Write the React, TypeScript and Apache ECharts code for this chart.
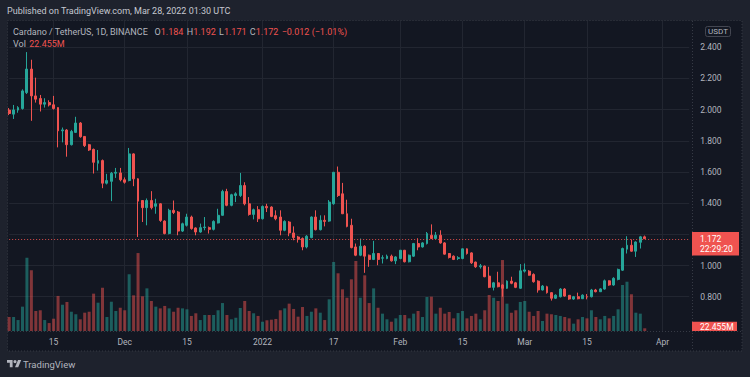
import React, { useEffect, useRef } from "react";
import * as echarts from "echarts";

// ---- data ----
const FIRST_DAY = Date.UTC(2021, 10, 5); // first visible daily candle: 2021-11-05
const SLOT_COUNT = 154; // daily slots on the time axis (candles + empty future space)

const opens = [
  1.997, 1.971, 1.997, 2.007, 2.109, 2.26, 2.088, 2.071, 2.035, 2.045,
  2.031, 2.013, 1.864, 1.869, 1.775, 1.854, 1.914, 1.828, 1.775, 1.745,
  1.656, 1.673, 1.528, 1.54, 1.592, 1.594, 1.55, 1.545, 1.716, 1.556,
  1.417, 1.371, 1.417, 1.38, 1.396, 1.285, 1.205, 1.354, 1.343, 1.221,
  1.258, 1.311, 1.241, 1.215, 1.243, 1.243, 1.232, 1.273, 1.322, 1.475,
  1.386, 1.449, 1.449, 1.513, 1.396, 1.328, 1.358, 1.3, 1.379, 1.375,
  1.32, 1.311, 1.226, 1.279, 1.209, 1.183, 1.173, 1.119, 1.179, 1.311,
  1.23, 1.29, 1.285, 1.396, 1.598, 1.46, 1.332, 1.258, 1.119, 1.066,
  1.124, 1.066, 1.039, 1.077, 1.047, 1.045, 1.06, 1.03, 1.045, 1.098,
  1.024, 1.06, 1.141, 1.119, 1.141, 1.194, 1.173, 1.194, 1.145, 1.077,
  1.06, 1.045, 1.045, 1.107, 1.081, 1.022, 0.992, 0.996, 0.932, 0.86,
  0.889, 0.875, 0.854, 0.9, 0.889, 0.854, 0.964, 0.964, 0.943, 0.9,
  0.843, 0.864, 0.826, 0.79, 0.8, 0.849, 0.809, 0.785, 0.8, 0.787,
  0.8, 0.8, 0.843, 0.832, 0.849, 0.902, 0.875, 0.911, 0.97, 1.105,
  1.13, 1.092, 1.149, 1.184,
];
const highs = [
  2.01, 2.03, 2.022, 2.13, 2.369, 2.32, 2.205, 2.094, 2.073, 2.06,
  2.088, 2.015, 1.885, 1.875, 1.87, 1.954, 1.92, 1.83, 1.78, 1.75,
  1.741, 1.68, 1.588, 1.6, 1.626, 1.626, 1.565, 1.754, 1.72, 1.56,
  1.42, 1.43, 1.477, 1.428, 1.4, 1.29, 1.364, 1.417, 1.35, 1.275,
  1.332, 1.32, 1.245, 1.269, 1.311, 1.25, 1.29, 1.364, 1.486, 1.492,
  1.46, 1.47, 1.594, 1.534, 1.439, 1.365, 1.381, 1.385, 1.396, 1.38,
  1.354, 1.354, 1.29, 1.285, 1.251, 1.19, 1.18, 1.195, 1.315, 1.354,
  1.322, 1.322, 1.42, 1.6, 1.635, 1.53, 1.422, 1.3, 1.141, 1.173,
  1.13, 1.07, 1.158, 1.08, 1.066, 1.07, 1.07, 1.06, 1.1, 1.1,
  1.07, 1.145, 1.175, 1.15, 1.215, 1.264, 1.215, 1.226, 1.15, 1.08,
  1.065, 1.06, 1.11, 1.11, 1.085, 1.025, 1.01, 1.0, 0.992, 0.895,
  0.96, 0.88, 0.905, 0.928, 0.895, 1.009, 1.013, 0.97, 0.95, 0.905,
  0.875, 0.87, 0.83, 0.815, 0.855, 0.855, 0.81, 0.805, 0.826, 0.815,
  0.817, 0.85, 0.85, 0.855, 0.91, 0.905, 0.925, 0.98, 1.115, 1.188,
  1.167, 1.155, 1.19, 1.192,
];
const lows = [
  1.965, 1.94, 1.98, 2.0, 2.1, 1.928, 2.045, 1.988, 2.013, 2.02,
  2.0, 1.758, 1.79, 1.698, 1.77, 1.85, 1.82, 1.76, 1.735, 1.59,
  1.609, 1.496, 1.52, 1.413, 1.562, 1.54, 1.525, 1.54, 1.509, 1.183,
  1.279, 1.258, 1.36, 1.332, 1.28, 1.2, 1.2, 1.33, 1.194, 1.215,
  1.25, 1.23, 1.194, 1.21, 1.226, 1.205, 1.225, 1.27, 1.32, 1.38,
  1.38, 1.407, 1.44, 1.386, 1.32, 1.296, 1.279, 1.295, 1.343, 1.31,
  1.29, 1.194, 1.22, 1.188, 1.162, 1.147, 1.098, 1.11, 1.175, 1.225,
  1.225, 1.251, 1.28, 1.39, 1.44, 1.33, 1.245, 1.11, 1.06, 1.06,
  0.953, 0.992, 1.035, 1.002, 1.013, 1.04, 1.025, 1.009, 1.04, 1.02,
  1.02, 1.055, 1.098, 1.115, 1.135, 1.17, 1.17, 1.14, 1.07, 1.045,
  1.035, 1.035, 1.04, 1.07, 1.01, 0.985, 0.98, 0.925, 0.855, 0.84,
  0.86, 0.8, 0.85, 0.88, 0.855, 0.85, 0.955, 0.935, 0.89, 0.826,
  0.84, 0.82, 0.775, 0.785, 0.795, 0.8, 0.78, 0.78, 0.783, 0.785,
  0.783, 0.795, 0.828, 0.83, 0.845, 0.87, 0.87, 0.905, 0.965, 1.077,
  1.088, 1.055, 1.109, 1.171,
];
const closes = [
  1.975, 1.998, 2.013, 2.12, 2.26, 2.088, 2.067, 2.035, 2.045, 2.03,
  2.007, 1.864, 1.87, 1.775, 1.86, 1.914, 1.826, 1.769, 1.741, 1.662,
  1.673, 1.528, 1.545, 1.592, 1.598, 1.55, 1.534, 1.716, 1.556, 1.413,
  1.371, 1.417, 1.371, 1.396, 1.289, 1.205, 1.354, 1.34, 1.221, 1.268,
  1.311, 1.237, 1.215, 1.243, 1.247, 1.232, 1.283, 1.322, 1.475, 1.386,
  1.454, 1.46, 1.513, 1.396, 1.328, 1.358, 1.3, 1.379, 1.37, 1.315,
  1.3, 1.226, 1.283, 1.209, 1.179, 1.168, 1.119, 1.188, 1.311, 1.23,
  1.29, 1.283, 1.407, 1.598, 1.449, 1.332, 1.251, 1.115, 1.066, 1.124,
  1.06, 1.039, 1.077, 1.039, 1.05, 1.06, 1.03, 1.055, 1.098, 1.024,
  1.066, 1.141, 1.119, 1.145, 1.205, 1.173, 1.194, 1.145, 1.073, 1.052,
  1.039, 1.05, 1.107, 1.077, 1.017, 0.992, 0.998, 0.928, 0.86, 0.889,
  0.864, 0.854, 0.9, 0.886, 0.86, 0.966, 0.972, 0.938, 0.896, 0.843,
  0.868, 0.826, 0.79, 0.81, 0.849, 0.804, 0.785, 0.8, 0.787, 0.81,
  0.798, 0.843, 0.832, 0.85, 0.902, 0.875, 0.918, 0.975, 1.109, 1.13,
  1.092, 1.151, 1.184, 1.172,
];
// volume in millions of ADA
const volumes = [
  116, 116, 91, 202, 608, 504, 166, 172, 91, 66,
  102, 291, 218, 241, 160, 139, 97, 152, 160, 310,
  235, 359, 116, 243, 166, 193, 172, 471, 296, 647,
  288, 354, 249, 202, 188, 208, 188, 160, 193, 188,
  180, 125, 147, 91, 133, 133, 133, 172, 232, 133,
  97, 110, 191, 249, 166, 147, 125, 77, 89, 94,
  100, 172, 188, 227, 183, 119, 199, 125, 160, 188,
  152, 91, 263, 573, 479, 346, 276, 429, 581, 276,
  462, 232, 354, 193, 144, 97, 77, 105, 133, 133,
  105, 144, 166, 116, 282, 285, 144, 193, 144, 158,
  105, 149, 166, 105, 125, 144, 97, 172, 299, 276,
  249, 589, 227, 152, 172, 241, 249, 160, 125, 166,
  83, 144, 139, 133, 125, 116, 105, 61, 97, 116,
  105, 172, 116, 97, 125, 105, 125, 180, 382, 409,
  305, 152, 144, 22.455,
];
const timeLabels: Array<[string, string]> = [
  ["2021-11-15", "15"],
  ["2021-12-01", "Dec"],
  ["2021-12-15", "15"],
  ["2022-01-01", "2022"],
  ["2022-01-17", "17"],
  ["2022-02-01", "Feb"],
  ["2022-02-15", "15"],
  ["2022-03-01", "Mar"],
  ["2022-03-15", "15"],
  ["2022-04-01", "Apr"],
];
// grid lines of the price scale; the 1.200 label is hidden behind the last-price tag
const priceTicks = [0.8, 1.0, 1.2, 1.4, 1.6, 1.8, 2.0, 2.2, 2.4];
const priceLabels = [0.8, 1.0, 1.4, 1.6, 1.8, 2.0, 2.2, 2.4];

const headerText = "Published on TradingView.com, Mar 28, 2022 01:30 UTC";
const symbolText = "Cardano / TetherUS, 1D, BINANCE";
const countdownText = "22:29:20";
const currencyText = "USDT";
const brandText = "TradingView";

// ---- styling ----
const UP = "#26a69a";
const DOWN = "#ef5350";
const UP_VOL = "rgba(38,166,154,0.5)";
const DOWN_VOL = "rgba(239,83,80,0.5)";
const PANE_BG = "#131722";
const OUTER_BG = "#1e222d";
const GRID = "#222631";
const TEXT = "#b2b5be";
const FONT = "Roboto, 'Noto Sans', sans-serif";
const TV_LOGO =
  "M14 22H7V11H0V4h14v18zM28 22h-8l7.5-18h8L28 22zM24 8a4 4 0 1 1-8 0a4 4 0 1 1 8 0z";

let logoRegistered = false;

export default function App() {
  const ref = useRef<HTMLDivElement>(null);

  useEffect(() => {
    document.body.style.margin = "0";
    if (!logoRegistered) {
      echarts.graphic.registerShape("tvlogo", echarts.graphic.extendPath(TV_LOGO, {}) as any);
      logoRegistered = true;
    }
    const chart = echarts.init(ref.current!, null, { renderer: "svg", width: 750, height: 377 });

    const dates: string[] = [];
    for (let i = 0; i < SLOT_COUNT; i++) {
      dates.push(new Date(FIRST_DAY + i * 86400000).toISOString().slice(0, 10));
    }
    const labelMap = new Map(timeLabels);
    const candleData = opens.map((o, i) => [o, closes[i], lows[i], highs[i]]);
    const volData = volumes.map((v, i) => ({
      value: v,
      itemStyle: { color: closes[i] >= opens[i] ? UP_VOL : DOWN_VOL },
    }));
    const last = opens.length - 1;

    chart.setOption({
      animation: false,
      backgroundColor: PANE_BG,
      textStyle: { fontFamily: FONT },
      grid: { left: 9.15, right: 60.8, top: 21, height: 310 },
      xAxis: {
        type: "category",
        data: dates,
        boundaryGap: false,
        axisLine: { show: false },
        axisTick: { show: false },
        axisLabel: {
          interval: (_i: number, v: string) => labelMap.has(v),
          formatter: (v: string) => labelMap.get(v) ?? "",
          color: TEXT,
          fontSize: 8.5,
          margin: 6,
          fontFamily: FONT,
        },
        splitLine: {
          show: true,
          interval: (_i: number, v: string) => labelMap.has(v),
          lineStyle: { color: GRID, width: 1 },
        },
      },
      yAxis: [
        {
          type: "value",
          position: "right",
          min: 0.58,
          max: 2.5684,
          axisLine: { show: false },
          axisTick: { show: false, customValues: priceTicks },
          axisLabel: {
            customValues: priceLabels,
            formatter: (v: number) => v.toFixed(3),
            color: TEXT,
            fontSize: 8.5,
            margin: 11,
            fontFamily: FONT,
          },
          splitLine: { show: true, lineStyle: { color: GRID, width: 1 } },
        },
        { type: "value", min: 0, max: 2573, show: false, splitLine: { show: false } },
      ],
      series: [
        {
          type: "bar",
          yAxisIndex: 1,
          data: volData,
          barWidth: 3,
          z: 1,
          silent: true,
        },
        {
          type: "candlestick",
          data: candleData,
          barWidth: 2.4,
          clip: false,
          z: 3,
          silent: true,
          itemStyle: {
            color: UP,
            color0: DOWN,
            borderColor: UP,
            borderColor0: DOWN,
            borderWidth: 1,
          },
          markLine: {
            silent: true,
            symbol: ["none", "none"],
            label: { show: false },
            lineStyle: { color: DOWN, type: [1, 2], width: 1, opacity: 0.9 },
            data: [{ yAxis: closes[last] }],
          },
        },
      ],
    });

    const yP = chart.convertToPixel({ yAxisIndex: 0 } as any, closes[last]) as unknown as number;
    const yV = chart.convertToPixel({ yAxisIndex: 1 } as any, volumes[last]) as unknown as number;

    const prevClose = closes[last - 1];
    const chg = closes[last] - prevClose;
    const pct = (chg / prevClose) * 100;
    const minus = "\u2212";
    const chgText = `${chg < 0 ? minus : "+"}${Math.abs(chg).toFixed(3)} (${chg < 0 ? minus : "+"}${Math.abs(pct).toFixed(2)}%)`;
    const vc = closes[last] >= opens[last] ? UP : DOWN;
    const volText = `${volumes[last].toFixed(3)}M`;

    const volTop = yV - 6.5;
    const volH = Math.min(13, 331 - volTop);

    chart.setOption({
      graphic: [
        // outer frame bands
        { type: "rect", shape: { x: 0, y: 0, width: 750, height: 20.5 }, style: { fill: OUTER_BG }, silent: true },
        { type: "rect", shape: { x: 0, y: 351, width: 750, height: 26 }, style: { fill: OUTER_BG }, silent: true },
        { type: "rect", shape: { x: 0, y: 0, width: 7.5, height: 377 }, style: { fill: OUTER_BG }, silent: true },
        { type: "rect", shape: { x: 742, y: 0, width: 8, height: 377 }, style: { fill: OUTER_BG }, silent: true },
        // dotted chart frame and separators
        {
          type: "rect",
          shape: { x: 7.5, y: 20.5, width: 734.5, height: 330.5 },
          style: { fill: "none", stroke: "#363a45", lineWidth: 1, lineDash: [1, 2] },
          silent: true,
        },
        {
          type: "line",
          shape: { x1: 692.5, y1: 21, x2: 692.5, y2: 351 },
          style: { stroke: "#363a45", lineWidth: 1, lineDash: [1, 2] },
          silent: true,
        },
        {
          type: "line",
          shape: { x1: 8, y1: 331.5, x2: 742, y2: 331.5 },
          style: { stroke: "#363a45", lineWidth: 1, lineDash: [1, 2] },
          silent: true,
        },
        // header
        {
          type: "text",
          x: 7,
          y: 11,
          style: { text: headerText, fill: "#c5c8d0", fontSize: 9, fontFamily: FONT, verticalAlign: "middle" },
          silent: true,
        },
        // legend
        {
          type: "text",
          x: 13,
          y: 32,
          style: {
            text:
              `{g|${symbolText}}  {g|O}{r|${opens[last].toFixed(3)}} {g|H}{r|${highs[last].toFixed(3)}} ` +
              `{g|L}{r|${lows[last].toFixed(3)}} {g|C}{r|${closes[last].toFixed(3)}} {r|${chgText}}`,
            verticalAlign: "middle",
            rich: {
              g: { fill: TEXT, fontSize: 9, fontFamily: FONT },
              r: { fill: vc, fontSize: 9, fontFamily: FONT },
            },
          },
          silent: true,
        },
        {
          type: "text",
          x: 13,
          y: 44,
          style: {
            text: `{g|Vol} {r|${volText}}`,
            verticalAlign: "middle",
            rich: {
              g: { fill: TEXT, fontSize: 9, fontFamily: FONT },
              r: { fill: vc, fontSize: 9, fontFamily: FONT },
            },
          },
          silent: true,
        },
        // currency box
        {
          type: "rect",
          shape: { x: 705.5, y: 26.5, width: 25, height: 10, r: 2 },
          style: { fill: "none", stroke: "#434651", lineWidth: 1 },
          silent: true,
        },
        {
          type: "text",
          x: 718,
          y: 31.7,
          style: { text: currencyText, fill: TEXT, fontSize: 8, fontFamily: FONT, align: "center", verticalAlign: "middle" },
          silent: true,
        },
        // last price tag
        {
          type: "rect",
          shape: { x: 692, y: yP - 6.7, width: 47, height: 23.4 },
          style: { fill: vc },
          silent: true,
        },
        {
          type: "text",
          x: 700,
          y: yP,
          style: { text: closes[last].toFixed(3), fill: "#ffffff", fontSize: 8.5, fontFamily: FONT, verticalAlign: "middle" },
          silent: true,
        },
        {
          type: "text",
          x: 700,
          y: yP + 10.5,
          style: { text: countdownText, fill: "#ffffff", fontSize: 8.5, fontFamily: FONT, verticalAlign: "middle" },
          silent: true,
        },
        // last volume tag
        {
          type: "rect",
          shape: { x: 692, y: volTop, width: 45, height: volH },
          style: { fill: vc },
          silent: true,
        },
        {
          type: "text",
          x: 700,
          y: volTop + 5.5,
          style: { text: volText, fill: "#ffffff", fontSize: 8.5, fontFamily: FONT, verticalAlign: "middle" },
          silent: true,
        },
        // footer brand
        {
          type: "tvlogo",
          x: 7,
          y: 358.4,
          scaleX: 0.4,
          scaleY: 0.4,
          style: { fill: TEXT },
          silent: true,
        },
        {
          type: "text",
          x: 23,
          y: 364,
          style: { text: brandText, fill: TEXT, fontSize: 9.5, fontFamily: FONT, verticalAlign: "middle" },
          silent: true,
        },
      ],
    });

    return () => chart.dispose();
  }, []);

  return <div ref={ref} style={{ width: 750, height: 377 }} />;
}
